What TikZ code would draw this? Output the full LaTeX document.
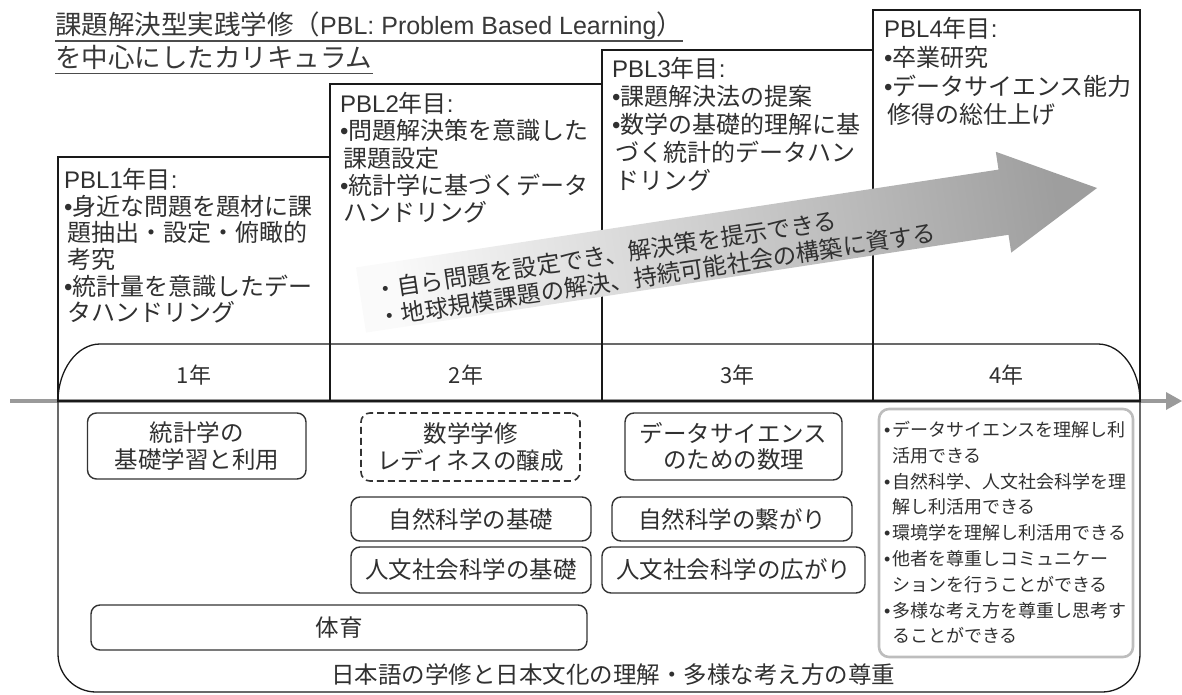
\documentclass[tikz,border=0pt]{standalone}
\usepackage{fontspec}
\setmainfont{Noto Sans CJK JP}
\newfontfamily\lat{Liberation Sans}
\usetikzlibrary{calc}
\definecolor{txt}{HTML}{303030}
\definecolor{boxc}{HTML}{333333}
\definecolor{axisc}{HTML}{9A9A9A}
\definecolor{rbox}{HTML}{BDBDBD}
\newcommand{\bul}{{\lat •}}
\newcommand{\ind}{\hspace*{3pt}}
\begin{document}
\begin{tikzpicture}[x=1pt,y=-1pt,
  blk/.style={draw=black!90,line width=1.3pt},
  ptext/.style={anchor=north west,inner sep=0,align=left,text=txt},
  sbox/.style={draw=boxc,rounded corners=9pt,line width=1.4pt,align=center,text=txt,
    font=\fontsize{23.5}{26.5}\selectfont,inner sep=0},
  yr/.style={text=txt,font=\fontsize{22}{24}\selectfont,inner sep=0},
  ttl/.style={anchor=north west,inner sep=0,text=black!78,font=\fontsize{26.5}{30}\selectfont},
  ul/.style={draw=black!70,line width=1.3pt}]
\useasboundingbox (0,0) rectangle (1182,695);

% time axis
\draw[axisc,line width=4pt] (10,401) -- (1168,401);
\coordinate (axtip) at (1182,401);
\fill[axisc] (1166,392) -- (axtip) -- (1166,410) -- cycle;

% bottom frame
\draw[blk,rounded corners=38pt] (58,401) -- (58,692) -- (1140,692) -- (1140,401);

% PBL boxes
\draw[blk] (58,401) rectangle (330,157);
\draw[blk] (330,401) rectangle (602,84);
\draw[blk] (602,401) rectangle (873,50);
\draw[blk] (873,401) rectangle (1140,10);

% year band top
\draw[blk] (58,401) .. controls (58,370) and (77,344) .. (100,344) -- (1098,344)
  .. controls (1121,344) and (1140,370) .. (1140,401);
\draw[blk] (58,401) -- (1140,401);

% year labels
\node[yr] (y1) at (194,375) {1年};
\node[yr] (y2) at (466,375) {2年};
\node[yr] (y3) at (737.5,375) {3年};
\node[yr] (y4) at (1006.5,375) {4年};

% title
\node[ttl] (t1) at (55,12) {課題解決型実践学修（{\lat\fontsize{25}{30}\selectfont PBL: Problem Based Learning}）};
\node[ttl] (t2) at (55,45) {を中心にしたカリキュラム};
\draw[ul] ($(t1.base west)+(0,6)$) -- ($(t1.base east)+(0,6)$);
\draw[ul] ($(t2.base west)+(0,6)$) -- ($(t2.base east)+(0,6)$);

% PBL texts
\node[ptext,font=\fontsize{24}{26.7}\selectfont] (p1) at (64,168) {%
{\lat PBL1}年目{\lat :}\\
\bul 身近な問題を題材に課\\
\ind 題抽出・設定・俯瞰的\\
\ind 考究\\
\bul 統計量を意識したデー\\
\ind タハンドリング};
\node[ptext,font=\fontsize{24}{27.3}\selectfont] (p2) at (340,92) {%
{\lat PBL2}年目{\lat :}\\
\bul 問題解決策を意識した\\
\ind 課題設定\\
\bul 統計学に基づくデータ\\
\ind ハンドリング};
\node[ptext,font=\fontsize{24}{28}\selectfont] (p3) at (612,57) {%
{\lat PBL3}年目{\lat :}\\
\bul 課題解決法の提案\\
\bul 数学の基礎的理解に基\\
\ind づく統計的データハン\\
\ind ドリング};
\node[ptext,font=\fontsize{24}{28.8}\selectfont] (p4) at (884,17) {%
{\lat PBL4}年目{\lat :}\\
\bul 卒業研究\\
\bul データサイエンス能力\\
\ind 修得の総仕上げ};

% big gradient arrow
\shade[left color=black!2,right color=black!38,shading angle=98.65]
  (356.0,267.4) -- (998.5,169.6) -- (995.8,151.8) -- (1097,188)
  -- (1011.2,252.6) -- (1008.5,234.8) -- (366.0,332.6) -- cycle;
\node[rotate=8.65,anchor=west,inner sep=0,align=left,text=txt,
  font=\fontsize{23.5}{27}\selectfont] (goal) at (376,304) {%
・自ら問題を設定でき、解決策を提示できる\\
・地球規模課題の解決、持続可能社会の構築に資する};

% bottom subject boxes
\node[sbox,minimum width=218.5pt,minimum height=66pt] (a) at (196.75,446) {統計学の\\基礎学習と利用};
\node[sbox,dashed,dash pattern=on 7pt off 4pt,line width=1.6pt,minimum width=219pt,minimum height=68pt] (b) at (470.5,447) {数学学修\\レディネスの醸成};
\node[sbox,minimum width=240pt,minimum height=44pt] (c) at (471,519) {自然科学の基礎};
\node[sbox,minimum width=240pt,minimum height=46pt] (d) at (471,570) {人文社会科学の基礎};
\node[sbox,minimum width=496pt,minimum height=45pt] (e) at (339,627.5) {体育};
\node[sbox,minimum width=217pt,minimum height=67pt] (f) at (733.5,446.5) {データサイエンス\\のための数理};
\node[sbox,minimum width=240pt,minimum height=44pt] (g) at (732,519) {自然科学の繋がり};
\node[sbox,minimum width=263pt,minimum height=46pt] (h) at (733.5,570) {人文社会科学の広がり};

% outcomes box
\draw[rbox,line width=2.6pt,rounded corners=10pt] (879,409) rectangle (1133,657);
\node[ptext,font=\fontsize{18}{25.8}\selectfont] (r) at (884,421) {%
\bul\hspace{2pt}データサイエンスを理解し利\\
\hspace*{8pt}活用できる\\
\bul\hspace{2pt}自然科学、人文社会科学を理\\
\hspace*{8pt}解し利活用できる\\
\bul\hspace{2pt}環境学を理解し利活用できる\\
\bul\hspace{2pt}他者を尊重しコミュニケー\\
\hspace*{8pt}ションを行うことができる\\
\bul\hspace{2pt}多様な考え方を尊重し思考す\\
\hspace*{8pt}ることができる};

% base line text
\node[text=txt,inner sep=0,font=\fontsize{23.5}{26}\selectfont] (jp) at (613,675) {日本語の学修と日本文化の理解・多様な考え方の尊重};
\end{tikzpicture}
\end{document}
